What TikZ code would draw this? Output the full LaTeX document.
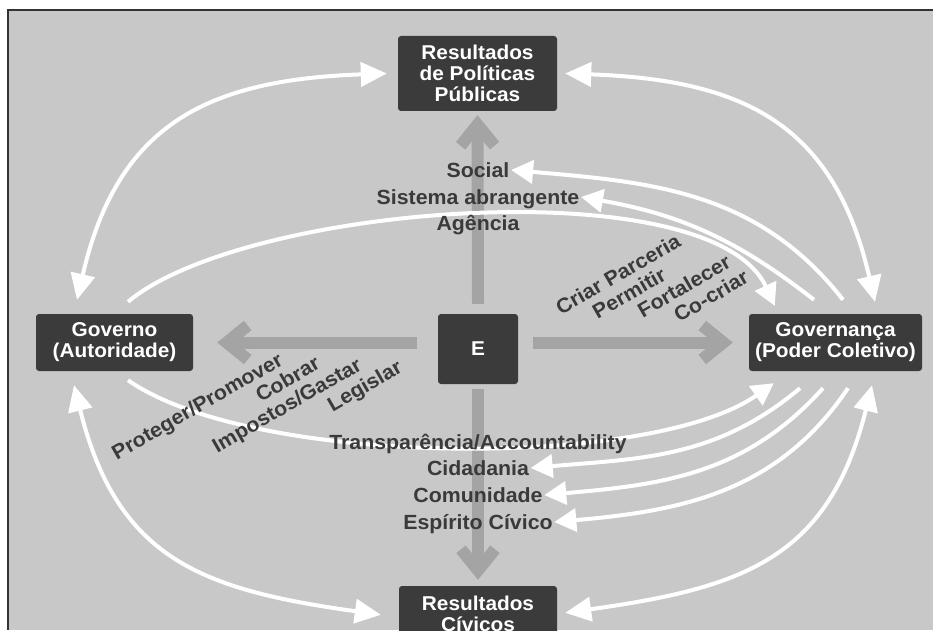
\documentclass[tikz,border=0pt]{standalone}
\usepackage{fontspec}
\setmainfont{Liberation Sans}[FakeStretch=1.04]
\usetikzlibrary{calc,arrows.meta}

\definecolor{bggray}{HTML}{C8C8C8}
\definecolor{boxgray}{HTML}{3B3B3B}
\definecolor{shaftgray}{HTML}{A4A4A4}
\definecolor{labelgray}{HTML}{3A3A3A}

\tikzset{
  box/.style={fill=boxgray, rounded corners=3pt, text=white, align=center, inner sep=0pt,
    font=\bfseries\fontsize{20}{21}\selectfont},
  lbl/.style={text=labelgray, inner sep=1.5pt, text height=14.5pt, text depth=0pt,
    font=\bfseries\fontsize{20.5}{21}\selectfont},
  tilted/.style={lbl, inner sep=0pt, rotate=30},
  shaft/.style={draw=shaftgray, line width=12pt, -{Straight Barb[length=21pt,width=34pt]}},
  bigarc/.style={draw=white, line width=4pt,
    {Triangle[length=26pt,width=24pt]}-{Triangle[length=26pt,width=24pt]}},
  backarc/.style={draw=white, line width=4pt, -{Triangle[length=22pt,width=23pt]}},
}

\begin{document}
\begin{tikzpicture}[x=1pt,y=1pt]
  % canvas and frame
  \useasboundingbox (0,0) rectangle (933,630);
  \clip (0,0) rectangle (933,630);
  \fill[bggray] (8,0) rectangle (933,620);
  \draw[line width=1.2pt, black!80] (8,0) -- (8,620) -- (933,620);

  % boxes
  \node[box, minimum width=159pt, minimum height=75pt] (pol) at (477.5,556.5) {Resultados\\de Políticas\\Públicas};
  \node[box, minimum width=157pt, minimum height=57pt] (gov) at (114.5,287.5) {Governo\\(Autoridade)};
  \node[box, minimum width=173pt, minimum height=57pt] (gova) at (835.5,287.5) {Governança\\(Poder Coletivo)};
  \node[box, minimum width=80pt, minimum height=70pt] (e) at (478,281) {E};
  \node[box, minimum width=158pt, minimum height=55pt] (civ) at (478,16.5) {Resultados\\Cívicos};

  % gray arrows out of E
  \draw[shaft] ($(e.west)+(-21,6.5)$) -- ($(gov.east)+(24,0)$);
  \draw[shaft] ($(e.east)+(15,6.5)$) -- ($(gova.west)+(-16,0)$);
  \draw[shaft] ($(e.north)+(0,10)$) -- ($(pol.south)+(0,-4)$);
  \draw[shaft] ($(e.south)+(0,-5)$) -- ($(civ.north)+(0,6)$);

  % labels on the vertical axis
  \node[lbl] (soc) at (478,460) {Social};
  \node[lbl] (sis) at (478,433) {Sistema abrangente};
  \node[lbl] (cid) at (478,162) {Cidadania};
  \node[lbl] (com) at (478,135) {Comunidade};
  \node[lbl] (esp) at (478,108) {Espírito Cívico};

  % big loops round the picture
  \draw[bigarc] ($(gov.north)+(-37.5,14)$) to[out=77,in=182,looseness=1.2] ($(pol.west)+(-11,0)$);
  \draw[bigarc] ($(pol.east)+(8,0)$) to[out=-2,in=103,looseness=1.2] ($(gova.north)+(39.5,12)$);
  \draw[bigarc] ($(gov.south)+(-40.5,-14)$) to[out=-76,in=172,looseness=1.2] ($(civ.north west)+(-18,-29)$);
  \draw[bigarc] ($(civ.north east)+(8,-27)$) to[out=8,in=-104,looseness=1.2] ($(gova.south)+(36.5,-14)$);

  % arcs from Governo to Governança
  \draw[backarc] ($(gov.north)+(13.5,12)$) to[out=40,in=115,looseness=0.6] ($(gova.north west)+(26,8)$);
  \draw[backarc] ($(gov.south)+(13.5,-9)$) to[out=-35,in=215,looseness=0.6] ($(gova.south west)+(25,-12)$);

  % arrows back from Governança
  \draw[backarc] ($(gova.north)+(-21.5,14)$) to[out=142,in=-10] (sis.east);
  \draw[backarc] ($(gova.north)+(7.5,14)$) to[out=128,in=-5] (soc.east);
  \foreach \lab/\dx/\ang in {cid/-35.5/220, com/-12.5/228, esp/12.5/236}
    \draw[backarc] ($(gova.south)+(\dx,-17)$) to[out=\ang,in=5] (\lab.east);

  % labels lying over the arcs
  \node[lbl] (age) at (478,407) {Agência};
  \node[lbl] (tra) at (478,188) {Transparência/Accountability};

  % tilted labels
  \node[tilted] (cri) at (618,356) {Criar Parceria};
  \node[tilted] (per) at (629,337) {Permitir};
  \node[tilted] (fort) at (684,344) {Fortalecer};
  \node[tilted] (cocr) at (711,334) {Co-criar};
  \node[tilted] (pro) at (197,224) {Proteger/Promover};
  \node[tilted] (cob) at (287.5,251) {Cobrar};
  \node[tilted] (imp) at (286.5,225) {Impostos/Gastar};
  \node[tilted] (leg) at (364.5,244.5) {Legislar};
\end{tikzpicture}
\end{document}
